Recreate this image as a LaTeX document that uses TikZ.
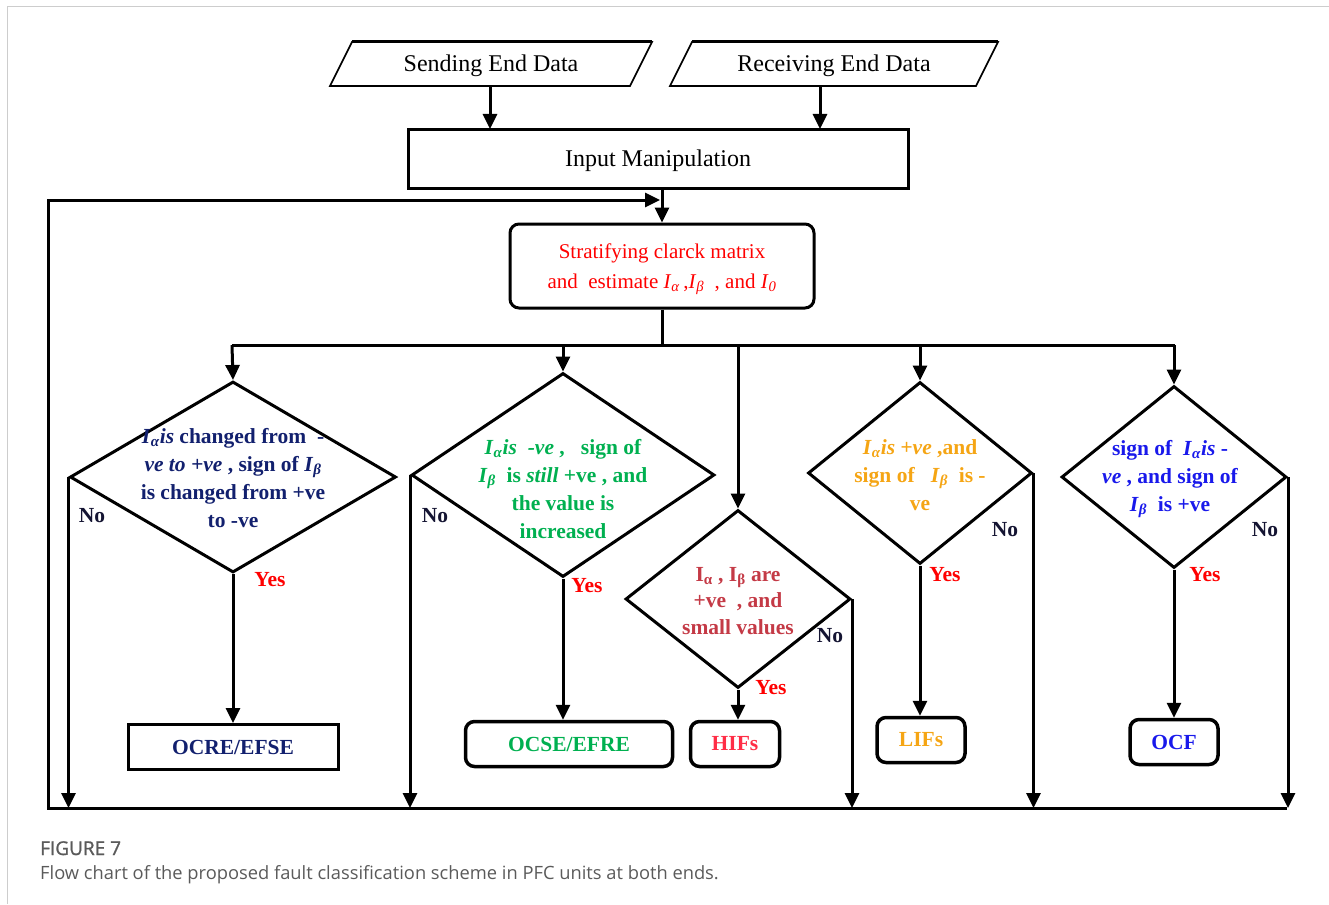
\documentclass[tikz,border=0pt]{standalone}
\usepackage{fontspec}
\setmainfont{Liberation Serif}
\newfontfamily\capfont{Open Sans}
\newfontfamily\capbf[FakeBold=1.2]{Open Sans}
\usetikzlibrary{arrows.meta}
\usetikzlibrary{shapes.geometric}
\definecolor{navy}{RGB}{18,32,110}
\definecolor{dgreen}{RGB}{0,176,80}
\definecolor{brick}{RGB}{196,58,70}
\definecolor{orng}{RGB}{245,165,20}
\definecolor{bblue}{RGB}{25,25,235}
\definecolor{rred}{RGB}{255,0,0}
\definecolor{hred}{RGB}{255,45,70}
\definecolor{capgray}{RGB}{90,90,90}
\definecolor{framegray}{RGB}{205,205,205}
\definecolor{nocol}{RGB}{20,20,50}
\newcommand{\Ia}{\textit{I}\textsubscript{\textit{α}}}
\newcommand{\Ib}{\textit{I}\textsubscript{\textit{β}}}
\begin{document}
\begin{tikzpicture}[x=1pt,y=-1pt,
  ln/.style={line width=3pt},
  arr/.style={line width=3pt,-{Triangle[length=15pt,width=14pt]}},
  pl/.style={draw,line width=1.6pt,line join=miter},
  ptxt/.style={inner sep=0pt,anchor=base,font=\fontsize{24}{26}\selectfont},
  sqbox/.style={draw,line width=3pt,inner sep=0pt},
  rbox/.style={draw,line width=3.5pt,rounded corners=9pt,inner sep=0pt},
  dia/.style={draw,line width=3pt,diamond,inner sep=0pt},
  dtxt/.style={align=center,font=\bfseries\fontsize{21.5}{28}\selectfont,inner sep=0pt},
  lab/.style={font=\bfseries\fontsize{21.5}{24}\selectfont,inner sep=0pt},
  yes/.style={lab,text=rred},
  no/.style={lab,text=nocol}]
\useasboundingbox (0,0) rectangle (1329,904);
\draw[framegray,line width=1pt] (7,904) -- (7,7) -- (1329,7);
% inputs
\draw[pl] (352,42) -- (652,42) -- (630,86) -- (330,86) -- cycle;
\draw[pl] (692,42) -- (998,42) -- (976,86) -- (670,86) -- cycle;
\draw[line width=1pt] (352,41) -- (652,41) (692,41) -- (998,41);
\node[ptxt] (se) at (491,72) {Sending End Data};
\node[ptxt] (re) at (834,72) {Receiving End Data};
\node[sqbox,minimum width=500pt,minimum height=58pt] (ip) at (658,159) {};
\node[ptxt] (ipt) at (658,167) {Input Manipulation};
\draw[arr] (490,86) -- (490,129);
\draw[arr] (820,86) -- (820,129);
% stratifying
\node[rbox,line width=3pt,minimum width=304pt,minimum height=84pt] (st) at (662,266) {};
\node[align=center,text=rred,inner sep=0pt,font=\fontsize{21}{30}\selectfont] (stt) at (662,269)
  {Stratifying clarck matrix\\and\ \ estimate \textit{I}\textsubscript{\textit{α}}\,,\textit{I}\textsubscript{\textit{β}}\ \ , and \textit{I}\textsubscript{\textit{0}}};
\draw[arr] (st.north |- ip.south) -- (st.north);
% diamonds
\node[dia,minimum width=326pt,minimum height=191pt] (d1) at (233,477) {};
\node[dia,minimum width=303pt,minimum height=204pt] (d2) at (563,475) {};
\node[dia,minimum width=225pt,minimum height=178pt] (d3) at (738,599) {};
\node[dia,minimum width=224pt,minimum height=182pt] (d4) at (920,473) {};
\node[dia,minimum width=225pt,minimum height=182pt] (d5) at (1174,477) {};
\node[dtxt,text=navy] (t1) at (233,478) {\Ia\textit{is} changed from \ -\\\textit{ve to +ve} , sign of \Ib\\is changed from +ve\\to -ve};
\node[dtxt,text=dgreen] (t2) at (563,489) {\Ia\textit{is}\ \ \textit{-ve} ,\ \ \ sign of\\\Ib\ \ is \textit{still} +ve , and\\the value is\\increased};
\node[dtxt,text=brick,font=\bfseries\fontsize{21.5}{26.5}\selectfont] (t3) at (738,601) {I\textsubscript{α} , I\textsubscript{β} are\\+ve\ \ , and\\small values};
\node[dtxt,text=orng] (t4) at (920,475) {\Ia\textit{is +ve} ,and\\sign of\ \ \ \Ib\ \ is -\\ve};
\node[dtxt,text=bblue] (t5) at (1170,479) {sign of\ \ \Ia\textit{is} -\\\textit{ve} , and sign of\\\Ib\ \ is +ve};
% bus
\coordinate (bj) at (662,345);
\draw[ln] (st.south) -- (bj);
\draw[ln] (232,345) -- (1175,345);
\draw[arr] (232,345) -- (d1.north);
\draw[arr] (563,345) -- (d2.north);
\draw[arr] (738,345) -- (d3.north);
\draw[arr] (920,345) -- (d4.north);
\draw[arr] (1174,345) -- (d5.north);
% result boxes
\node[sqbox,minimum width=210pt,minimum height=45pt,text=navy,font=\bfseries\fontsize{21.5}{24}\selectfont] (b1) at (233,747) {OCRE/EFSE};
\node[rbox,minimum width=207pt,minimum height=45pt,text=dgreen,font=\bfseries\fontsize{21.5}{24}\selectfont] (b2) at (569,744) {OCSE/EFRE};
\node[rbox,minimum width=89pt,minimum height=45pt,text=hred,font=\bfseries\fontsize{21.5}{24}\selectfont] (b3) at (735,744) {HIFs};
\node[rbox,minimum width=88pt,minimum height=45pt,text=orng,font=\bfseries\fontsize{21.5}{24}\selectfont] (b4) at (921,740) {LIFs};
\node[rbox,minimum width=88pt,minimum height=45pt,text=bblue,font=\bfseries\fontsize{21.5}{24}\selectfont] (b5) at (1174,742) {OCF};
\draw[arr] (d1.south) -- (d1.south |- b1.north);
\draw[arr] (d2.south) -- (d2.south |- b2.north);
\draw[arr] (d3.south) -- (d3.south |- b3.north);
\draw[arr] (d4.south) -- (d4.south |- b4.north);
\draw[arr] (d5.south) -- (d5.south |- b5.north);
% no branches and feedback
\coordinate (fbL) at (48,808);
\coordinate (fbR) at (1287,808);
\coordinate (fbT) at (660,200);
\draw[arr] (d1.west) -- (d1.west |- fbL);
\draw[arr] (d2.west) -- (d2.west |- fbL);
\draw[arr] (d3.east) -- (d3.east |- fbL);
\draw[arr] (d4.east) -- (d4.east |- fbL);
\draw[arr] (d5.east) -- (d5.east |- fbL);
\draw[arr] (fbR) -- (fbL) |- (fbT);
% labels
\node[no] (n1) at (92,516) {No};
\node[no] (n2) at (435,516) {No};
\node[no] (n3) at (830,636) {No};
\node[no] (n4) at (1005,530) {No};
\node[no] (n5) at (1265,530) {No};
\node[yes] (y1) at (270,580) {Yes};
\node[yes] (y2) at (587,586) {Yes};
\node[yes] (y3) at (771,688) {Yes};
\node[yes] (y4) at (945,575) {Yes};
\node[yes] (y5) at (1205,575) {Yes};
% caption
\node[anchor=base west,inner sep=0pt,text=capgray,font=\capbf\fontsize{19}{22}\selectfont] (cap1) at (40,855) {FIGURE 7};
\node[anchor=base west,inner sep=0pt,text=capgray,font=\capfont\fontsize{18.3}{22}\selectfont] (cap2) at (40,879) {Flow chart of the proposed fault classification scheme in PFC units at both ends.};
\end{tikzpicture}
\end{document}
